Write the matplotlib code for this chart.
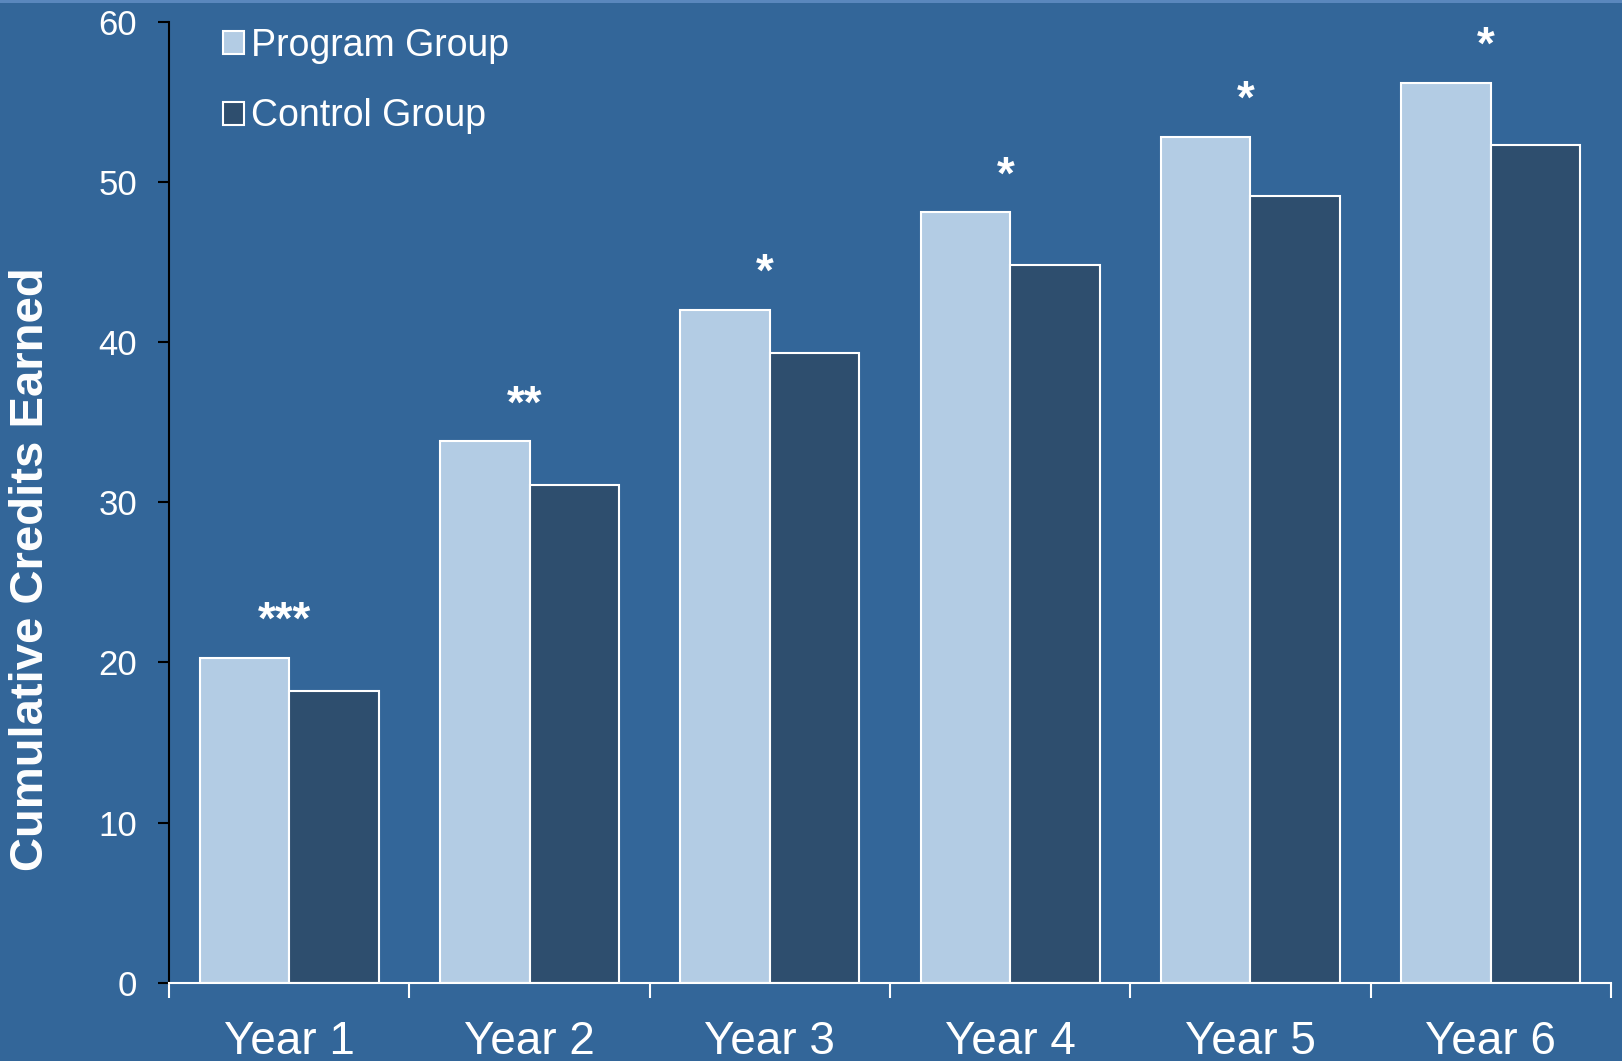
import matplotlib.pyplot as plt
from matplotlib.patches import Patch, Rectangle
import numpy as np

plt.rcParams['font.family'] = ['Liberation Sans', 'DejaVu Sans']

years = ['Year 1', 'Year 2', 'Year 3', 'Year 4', 'Year 5', 'Year 6']
program = [20.3, 33.8, 42.0, 48.1, 52.8, 56.2]
control = [18.2, 31.1, 39.3, 44.8, 49.1, 52.3]
stars = ['***', '**', '*', '*', '*', '*']

bg = '#336699'
c_prog = '#b3cce4'
c_ctrl = '#2e4e6e'

fig = plt.figure(figsize=(16.22, 10.61), dpi=100)
fig.patch.set_facecolor(bg)
ax = fig.add_axes([0.1042, 0.0738, 0.9932 - 0.1042, 0.9795 - 0.0738])
ax.set_facecolor(bg)

x = np.arange(len(years))
w = 0.372
ax.bar(x - w, program, w, align='edge', color=c_prog, edgecolor='white', linewidth=1.5, zorder=3)
ax.bar(x, control, w, align='edge', color=c_ctrl, edgecolor='white', linewidth=1.5, zorder=3)

for i, s in enumerate(stars):
    ax.text(x[i] - 0.02, program[i] + 1.5, s, ha='center', va='baseline',
            color='white', fontsize=33, fontweight='bold')

ax.set_xlim(-0.5, 5.5)
ax.set_ylim(0, 60)
ax.set_yticks(range(0, 61, 10))
ax.tick_params(axis='y', colors='black', length=8, width=1.5, direction='out',
               labelcolor='white', labelsize=25, pad=15)

# major ticks at category boundaries, labels on minor ticks at centres
ax.set_xticks(np.arange(-0.5, 6, 1))
ax.set_xticklabels([])
ax.set_xticks(x, minor=True)
ax.set_xticklabels(years, minor=True)
ax.tick_params(axis='x', which='major', colors='white', length=11, width=1.5, direction='out')
ax.tick_params(axis='x', which='minor', length=0, labelcolor='white', labelsize=33, pad=27)

for s in ['top', 'right']:
    ax.spines[s].set_visible(False)
ax.spines['left'].set_color('black')
ax.spines['left'].set_linewidth(1.5)
ax.spines['bottom'].set_color('white')
ax.spines['bottom'].set_linewidth(1.5)
ax.spines['bottom'].set_zorder(4)

fig.text(31 / 1622, 1 - 569 / 1061, 'Cumulative Credits Earned', color='white', fontsize=34,
         fontweight='bold', rotation=90, ha='center', va='center')

handles = [Patch(facecolor=c_prog, edgecolor='white', linewidth=1.5),
           Patch(facecolor=c_ctrl, edgecolor='white', linewidth=1.5)]
leg = ax.legend(handles, ['Program Group', 'Control Group'], loc='upper left',
                bbox_to_anchor=(223 / 1622, 1 - 28 / 1061), bbox_transform=fig.transFigure,
                frameon=False, fontsize=27, handlelength=0.55, handleheight=0.55,
                handletextpad=0.2, labelspacing=0.92, borderpad=0, borderaxespad=0)
for t in leg.get_texts():
    t.set_color('white')

fig.patches.append(Rectangle((0, 1 - 2.5 / 1061), 1, 2.5 / 1061, transform=fig.transFigure,
                             facecolor='#5a87bd', edgecolor='none'))

fig.savefig('out.png', dpi=100, facecolor=bg)
